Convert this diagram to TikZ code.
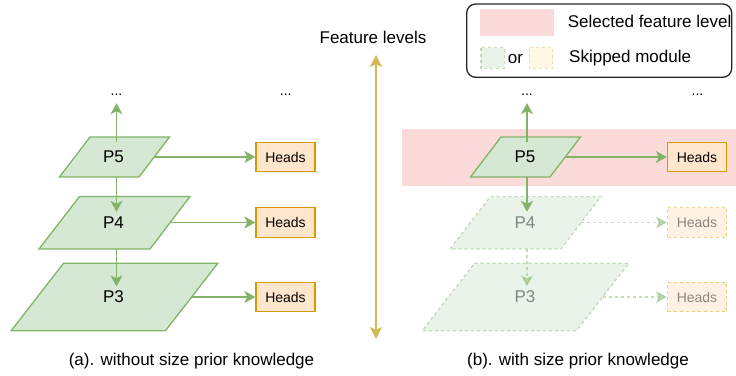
\documentclass[tikz,border=0pt]{standalone}
\usepackage{fontspec}
\setmainfont{Liberation Sans}
\usetikzlibrary{arrows.meta}
\definecolor{gfill}{HTML}{D5E8D4}
\definecolor{gline}{HTML}{82B366}
\definecolor{ofill}{HTML}{FFE6CC}
\definecolor{oline}{HTML}{D79B00}
\definecolor{yline}{HTML}{D6B656}
\definecolor{yfill}{HTML}{FFF2CC}
\definecolor{pinkband}{HTML}{FADBD9}
\begin{document}
\begin{tikzpicture}[x=1pt,y=-1pt,
  lw/.style={line width=1.3pt},
  para/.style={lw, draw=gline, fill=gfill, line join=miter},
  skipped/.style={draw opacity=0.45, fill opacity=0.5, text opacity=0.45},
  dsh/.style={dash pattern=on 3pt off 3pt},
  bigtext/.style={font=\fontsize{17}{20}\selectfont},
  plabel/.style={bigtext, inner sep=0pt, minimum height=21pt},
  heads/.style={lw, draw=oline, fill=ofill, minimum width=59pt, minimum height=29.5pt, inner sep=0pt, font=\fontsize{14}{16}\selectfont},
  arr/.style={lw, draw=gline, -{Stealth[length=11pt,width=12pt,inset=3pt]}},
  yarr/.style={lw, draw=yline, {Stealth[length=12pt,width=12pt,inset=3pt]}-{Stealth[length=12pt,width=12pt,inset=3pt]}},
  dots/.style={anchor=base, inner xsep=0pt, inner ysep=8pt, font=\fontsize{14}{16}\selectfont},
  caption/.style={font=\fontsize{17}{20}\selectfont, inner sep=0pt}
]
\useasboundingbox (0,0) rectangle (736,375);

% ---------- legend ----------
\draw[lw, draw=black!85, rounded corners=9pt] (466.7,4) rectangle (731.7,77.3);
\fill[pinkband] (480,9.3) rectangle (554,35.7);
\node[bigtext, anchor=west, inner sep=0pt] (lsel) at (567.7,21.7) {Selected feature level};
\path[lw, dsh, draw=gline, fill=gfill, skipped] (481,47.7) rectangle (504.3,68.3);
\node[bigtext, inner sep=0pt] (lor) at (515.5,59.5) {or};
\path[lw, dsh, draw=yline, fill=yfill, skipped] (529.3,47.7) rectangle (552.7,68.3);
\node[bigtext, anchor=west, inner sep=0pt] (lskip) at (569,57.7) {Skipped module};

% ---------- feature level arrow ----------
\node[bigtext, inner sep=0pt] (fl) at (373,37) {Feature levels};
\coordinate (flt) at (376,55);
\coordinate (flb) at (376,339);
\draw[yarr] (flb) -- (flt);

% ---------- left panel ----------
\draw[para] (90,137) -- (169.5,137) -- (139,177) -- (59.5,177) -- cycle;
\draw[para] (79.5,196.5) -- (190,196.5) -- (150,249) -- (39,249) -- cycle;
\draw[para] (63.5,263.3) -- (217.8,263.3) -- (165.5,330.7) -- (11.2,330.7) -- cycle;
\node[plabel] (p5A) at (113.5,157) {P5};
\node[plabel] (p4A) at (113.5,222.5) {P4};
\node[plabel] (p3A) at (113.5,297) {P3};
\node[heads] (h5A) at (285.5,157) {Heads};
\node[heads] (h4A) at (285.5,222.5) {Heads};
\node[heads] (h3A) at (285.5,297) {Heads};
\node[dots] (dA) at (116.5,95) {...};
\node[dots] (dHA) at (285.7,95) {...};
\coordinate (s5A) at (116.5,142);
\coordinate (b5A) at (116.5,177);
\coordinate (b4A) at (116.5,249);
\coordinate (r5A) at (154.3,157);
\coordinate (r4A) at (170,222.5);
\coordinate (r3A) at (191.5,297);
\draw[arr] (s5A) -- (dA.south);
\draw[arr] (b5A) -- (b5A |- p4A.north);
\draw[arr] (b4A) -- (b4A |- p3A.north);
\draw[arr] (r5A) -- (h5A.west);
\draw[arr] (r4A) -- (h4A.west);
\draw[arr] (r3A) -- (h3A.west);

% ---------- right panel ----------
\fill[pinkband] (402,129.3) rectangle (736,185.7);
\draw[para] (501,137) -- (580.5,137) -- (550,177) -- (470.5,177) -- cycle;
\draw[para, dsh, skipped] (490.5,196.5) -- (601,196.5) -- (561,249) -- (450,249) -- cycle;
\draw[para, dsh, skipped] (474.5,263.3) -- (628.8,263.3) -- (576.5,330.7) -- (422.2,330.7) -- cycle;
\node[plabel] (p5B) at (525,157) {P5};
\node[plabel, skipped] (p4B) at (525,222.5) {P4};
\node[plabel, skipped] (p3B) at (525,297) {P3};
\node[heads] (h5B) at (697,157) {Heads};
\node[heads, dsh, skipped] (h4B) at (697,222.5) {Heads};
\node[heads, dsh, skipped] (h3B) at (697,297) {Heads};
\node[dots] (dB) at (527,95) {...};
\node[dots] (dHB) at (697.5,95) {...};
\coordinate (s5B) at (527,142);
\coordinate (b5B) at (527,177);
\coordinate (b4B) at (527,249);
\coordinate (r5B) at (565.3,157);
\coordinate (r4B) at (581,222.5);
\coordinate (r3B) at (602.5,297);
\draw[arr] (s5B) -- (dB.south);
\draw[arr] (b5B) -- (b5B |- p4B.north);
\draw[arr, dsh, skipped] (b4B) -- (b4B |- p3B.north);
\draw[arr] (r5B) -- (h5B.west);
\draw[arr, dsh, skipped] (r4B) -- (h4B.west);
\draw[arr, dsh, skipped] (r3B) -- (h3B.west);

% ---------- captions ----------
\node[caption] (capA) at (191.5,361) {(a). without size prior knowledge};
\node[caption] (capB) at (578,361) {(b). with size prior knowledge};
\end{tikzpicture}
\end{document}
